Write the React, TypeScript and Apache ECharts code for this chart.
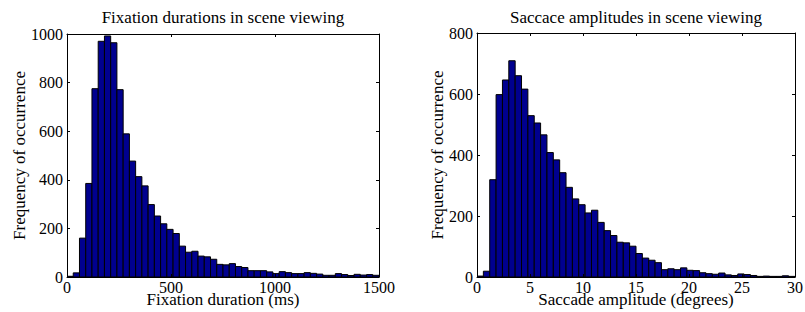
import React, { useEffect, useRef } from "react";
import * as echarts from "echarts";

// Histogram counts (50 bins each)
const fixationBinWidth = 30; // ms
const fixationCounts = [
  3, 17, 160, 385, 775, 970, 992, 964, 771, 589,
  477, 413, 375, 298, 251, 219, 196, 179, 127, 102,
  106, 86, 83, 73, 52, 50, 55, 43, 39, 26,
  26, 26, 21, 14, 22, 18, 14, 14, 18, 15,
  12, 7, 7, 14, 10, 6, 11, 8, 10, 7,
];

const saccadeBinWidth = 0.6; // degrees
const saccadeCounts = [
  3, 19, 319, 598, 646, 709, 660, 616, 529, 505,
  466, 408, 384, 342, 294, 256, 237, 210, 219, 179,
  152, 136, 114, 112, 101, 77, 62, 55, 47, 24,
  27, 24, 30, 22, 21, 14, 11, 9, 13, 7,
  5, 10, 8, 5, 2, 3, 2, 2, 4, 2,
];

const leftTitle = "Fixation durations in scene viewing";
const leftXName = "Fixation duration (ms)";
const rightTitle = "Saccace amplitudes in scene viewing";
const rightXName = "Saccade amplitude (degrees)";
const yName = "Frequency of occurrence";

const FONT = '"Liberation Serif", "Times New Roman", serif';

function toBins(counts: number[], width: number) {
  return counts.map((c, i) => [i * width, (i + 1) * width, c]);
}

const renderBar = (params: any, api: any) => {
  const start = api.value(0);
  const end = api.value(1);
  const count = api.value(2);
  const p0 = api.coord([start, 0]);
  const p1 = api.coord([end, count]);
  return {
    type: "rect",
    shape: { x: p0[0], y: p1[1], width: p1[0] - p0[0], height: p0[1] - p1[1] },
    style: { fill: "#00008F", stroke: "#000000", lineWidth: 1 },
  };
};

export default function App() {
  const ref = useRef<HTMLDivElement>(null);
  useEffect(() => {
    if (!ref.current) return;
    const chart = echarts.init(ref.current, undefined, { renderer: "svg" });

    const lineStyle = { color: "#000", width: 1 };
    const axisLine = { show: true, onZero: false, lineStyle };
    const tick = { show: true, inside: true, length: 3, lineStyle };
    const label = {
      color: "#000", fontSize: 16, fontFamily: FONT,
      formatter: (v: number) => String(v),
    };
    const nameStyle = { color: "#000", fontSize: 17, fontFamily: FONT };

    const xBottom = (grid: number, max: number, interval: number, name: string) => ({
      type: "value", gridIndex: grid, position: "bottom", min: 0, max, interval,
      name, nameLocation: "middle", nameGap: 14, nameMoveOverlap: false, nameTextStyle: nameStyle,
      axisLine, axisTick: tick,
      axisLabel: { ...label, margin: 2 }, splitLine: { show: false }, z: 5,
    });
    const xTop = (grid: number, max: number, interval: number) => ({
      type: "value", gridIndex: grid, position: "top", min: 0, max, interval,
      axisLine, axisTick: tick,
      axisLabel: { show: false }, splitLine: { show: false }, z: 5,
    });
    const yLeft = (grid: number, max: number, gap: number) => ({
      type: "value", gridIndex: grid, position: "left", min: 0, max, interval: 200,
      name: yName, nameLocation: "middle", nameGap: gap, nameMoveOverlap: false, nameTextStyle: nameStyle,
      axisLine, axisTick: tick,
      axisLabel: { ...label, margin: 4 }, splitLine: { show: false }, z: 5,
    });
    const yRight = (grid: number, max: number) => ({
      type: "value", gridIndex: grid, position: "right", min: 0, max, interval: 200,
      axisLine, axisTick: tick,
      axisLabel: { show: false }, splitLine: { show: false }, z: 5,
    });

    chart.setOption({
      animation: false,
      textStyle: { fontFamily: FONT, color: "#000" },
      title: [
        { text: leftTitle, left: 223, top: 9, textAlign: "center", padding: 0,
          textStyle: { fontSize: 17, fontWeight: "normal", fontFamily: FONT, color: "#000" } },
        { text: rightTitle, left: 636, top: 9, textAlign: "center", padding: 0,
          textStyle: { fontSize: 17, fontWeight: "normal", fontFamily: FONT, color: "#000" } },
      ],
      grid: [
        { left: 67, top: 34, width: 312, height: 243, containLabel: false, outerBoundsMode: "none" },
        { left: 477, top: 33, width: 318, height: 244, containLabel: false, outerBoundsMode: "none" },
      ],
      xAxis: [
        xBottom(0, 1500, 500, leftXName),
        xTop(0, 1500, 500),
        xBottom(1, 30, 5, rightXName),
        xTop(1, 30, 5),
      ],
      yAxis: [
        yLeft(0, 1000, 39),
        yRight(0, 1000),
        yLeft(1, 800, 31),
        yRight(1, 800),
      ],
      series: [
        {
          type: "custom", xAxisIndex: 0, yAxisIndex: 0,
          data: toBins(fixationCounts, fixationBinWidth),
          encode: { x: [0, 1], y: 2 }, renderItem: renderBar, clip: true,
        },
        {
          type: "custom", xAxisIndex: 2, yAxisIndex: 2,
          data: toBins(saccadeCounts, saccadeBinWidth),
          encode: { x: [0, 1], y: 2 }, renderItem: renderBar, clip: true,
        },
      ],
    });
    return () => chart.dispose();
  }, []);

  return (
    <div
      ref={ref}
      style={{ position: "fixed", left: 0, top: 0, width: 805, height: 312, background: "#fff" }}
    />
  );
}
